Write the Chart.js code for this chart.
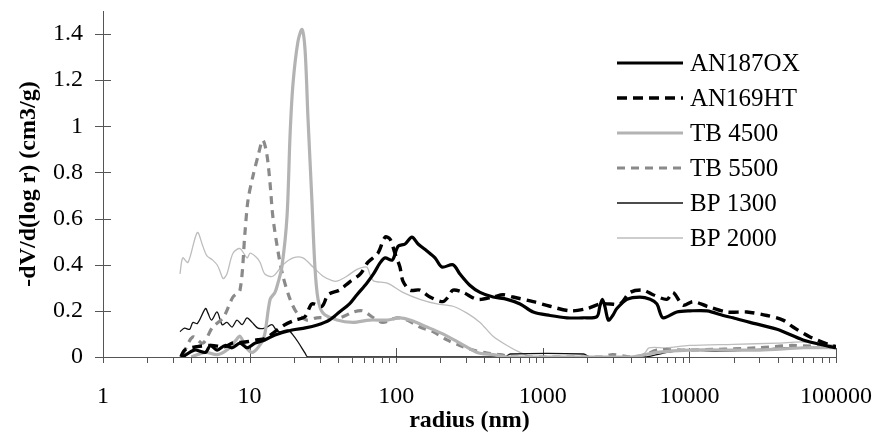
<!DOCTYPE html>
<html>
<head>
<meta charset="utf-8">
<script src="https://cdn.jsdelivr.net/npm/chart.js@4/dist/chart.umd.min.js"></script>
<style>
  html, body { margin: 0; background: #fff; }
  #wrap { width: 875px; height: 439px; position: relative; }
</style>
</head>
<body>
<div id="wrap"><canvas id="psd"></canvas></div>
<script>
// Pore size distribution — six samples, log radius axis.

// ── Data (radius in nm, -dV/d(log r) in cm3/g) ─────────────────────────────────
const an187oxR = [3.5, 4.2, 5.0, 5.4, 6.0, 6.8, 7.6, 8.6, 9.6, 10.9, 12.7, 14.9, 19.5, 24, 29, 35, 41, 48, 54, 63, 70, 78, 84, 94, 103, 115, 128, 141, 162, 184, 205, 244, 272, 319, 373, 458, 570, 700, 860, 1120, 1460, 1880, 2340, 2450, 2550, 2650, 2800, 3000, 3200, 3750, 4600, 5400, 6000, 6600, 8200, 10100, 13200, 17000, 19800, 25900, 39600, 59600, 91000, 100000];
const an187oxV = [0, 0.03, 0.02, 0.05, 0.03, 0.05, 0.04, 0.06, 0.04, 0.06, 0.074, 0.095, 0.117, 0.126, 0.139, 0.16, 0.195, 0.23, 0.27, 0.32, 0.36, 0.41, 0.43, 0.42, 0.48, 0.49, 0.52, 0.49, 0.46, 0.43, 0.39, 0.40, 0.36, 0.31, 0.28, 0.26, 0.25, 0.23, 0.195, 0.18, 0.17, 0.17, 0.175, 0.22, 0.25, 0.22, 0.16, 0.18, 0.21, 0.25, 0.26, 0.25, 0.23, 0.17, 0.195, 0.20, 0.20, 0.18, 0.17, 0.15, 0.12, 0.074, 0.045, 0.04];

const an169htR = [3.4, 3.6, 4.4, 5.5, 6.8, 7.6, 9.3, 11.4, 12.7, 14.9, 17.4, 20.4, 23.9, 26.6, 31.2, 34.3, 41, 48, 57, 64, 75, 84, 91, 98, 106, 111, 124, 145, 170, 208, 226, 244, 286, 356, 458, 535, 626, 860, 1120, 1540, 2000, 2460, 2880, 3370, 3940, 4820, 5650, 7030, 7730, 9040, 10600, 13200, 18000, 24700, 33800, 43500, 50900, 66500, 91000, 100000];
const an169htV = [0, 0.03, 0.045, 0.05, 0.045, 0.06, 0.065, 0.075, 0.08, 0.11, 0.14, 0.16, 0.175, 0.23, 0.22, 0.27, 0.29, 0.325, 0.36, 0.41, 0.45, 0.52, 0.51, 0.45, 0.39, 0.33, 0.29, 0.29, 0.26, 0.24, 0.26, 0.29, 0.28, 0.25, 0.26, 0.27, 0.26, 0.24, 0.22, 0.20, 0.21, 0.23, 0.23, 0.23, 0.28, 0.29, 0.27, 0.25, 0.28, 0.225, 0.24, 0.22, 0.195, 0.195, 0.18, 0.16, 0.13, 0.087, 0.052, 0.045];

const tb4500R = [4, 5, 6, 7, 8, 8.6, 9.5, 10.5, 12, 12.7, 13.8, 14.9, 15.6, 16.6, 18.0, 18.9, 19.8, 21.4, 22.8, 23.9, 25.0, 26.6, 27.9, 29.3, 31.7, 39.5, 50.7, 66, 87, 106, 124, 162, 208, 272, 356, 458, 570, 700, 2000, 4000, 6000, 10000, 30000, 60000, 100000];
const tb4500V = [0, 0.02, 0.01, 0.03, 0.07, 0.09, 0.04, 0.02, 0.06, 0.1, 0.25, 0.28, 0.32, 0.39, 0.61, 0.97, 1.19, 1.37, 1.42, 1.33, 1.04, 0.68, 0.39, 0.25, 0.19, 0.16, 0.15, 0.16, 0.16, 0.17, 0.16, 0.13, 0.10, 0.06, 0.02, 0.01, 0, 0, 0, 0, 0.02, 0.03, 0.03, 0.04, 0.04];

const tb5500R = [3.5, 4.1, 4.8, 5.6, 6.6, 7.7, 8.6, 9.3, 9.75, 10.5, 11.4, 12.3, 13.1, 13.8, 14.4, 15.6, 16.9, 18.9, 21.1, 24.6, 28.8, 41, 51, 59, 70, 81, 101, 119, 145, 178, 222, 272, 334, 416, 511, 626, 1000, 2500, 3000, 4000, 5000, 6000, 10000, 30000, 50000, 100000];
const tb5500V = [0.01, 0.087, 0.06, 0.13, 0.17, 0.26, 0.29, 0.54, 0.68, 0.78, 0.87, 0.94, 0.88, 0.75, 0.61, 0.46, 0.35, 0.25, 0.19, 0.16, 0.17, 0.17, 0.195, 0.2, 0.17, 0.15, 0.17, 0.16, 0.13, 0.11, 0.074, 0.05, 0.03, 0.017, 0.01, 0, 0, 0, 0.01, 0, 0.01, 0.03, 0.03, 0.04, 0.05, 0.04];

const bp1300R = [3.35, 3.6, 3.9, 4.1, 4.4, 5.0, 5.2, 5.5, 6.0, 6.5, 7.0, 7.6, 8.2, 8.9, 9.6, 10.4, 11.4, 12.7, 14.2, 15.6, 18.3, 19.5, 21.4, 23.9, 25, 550, 600, 1900, 2100, 5000, 6000, 7000, 10000, 15000, 25000, 50000, 100000];
const bp1300V = [0.11, 0.125, 0.12, 0.15, 0.145, 0.21, 0.19, 0.16, 0.195, 0.14, 0.15, 0.13, 0.16, 0.14, 0.17, 0.15, 0.125, 0.125, 0.14, 0.11, 0.117, 0.1, 0.065, 0.017, 0, 0, 0.013, 0.013, 0, 0, 0.01, 0.02, 0.03, 0.025, 0.03, 0.04, 0.04];

const bp2000R = [3.35, 3.5, 3.8, 4.4, 4.8, 5.1, 5.6, 6.0, 6.3, 6.6, 7.0, 7.7, 8.6, 9.6, 10.1, 11.2, 11.8, 12.7, 14.4, 16.9, 19.8, 23.1, 27.1, 31.7, 37, 40, 46, 54, 63, 66, 70, 87, 111, 145, 190, 244, 304, 373, 458, 570, 700, 860, 4500, 5000, 5300, 7000, 10000, 20000, 40000, 60000, 100000];
const bp2000V = [0.36, 0.43, 0.41, 0.54, 0.48, 0.44, 0.42, 0.40, 0.37, 0.34, 0.36, 0.45, 0.47, 0.43, 0.45, 0.43, 0.41, 0.36, 0.35, 0.40, 0.43, 0.43, 0.39, 0.35, 0.33, 0.33, 0.35, 0.38, 0.39, 0.36, 0.33, 0.32, 0.28, 0.25, 0.23, 0.22, 0.19, 0.15, 0.09, 0.05, 0.02, 0, 0, 0.02, 0.04, 0.04, 0.05, 0.055, 0.06, 0.065, 0.05];

const xDecades = [1, 10, 100, 1000, 10000, 100000];
const yTicks = [0, 0.2, 0.4, 0.6, 0.8, 1, 1.2, 1.4];

// ── Styling ───────────────────────────────────────────────────────────────────
const SERIF = '"Liberation Serif", "Times New Roman", serif';
const AXIS = '#555';
const pts = (rs, vs) => rs.map((r, i) => ({ x: r, y: vs[i] }));
const line = (label, rs, vs, color, width, dash) => ({
  label, data: pts(rs, vs), borderColor: color, borderWidth: width,
  borderDash: dash || [], pointRadius: 0, tension: 0.3, fill: false,
});

// axis tick marks: y ticks cross the axis, x decades cross, minors hang below
const tickMarks = {
  id: 'tickMarks',
  beforeDatasetsDraw(chart) {
    const { ctx, scales: { x, y } } = chart;
    ctx.save();
    ctx.strokeStyle = AXIS;
    ctx.lineWidth = 1;
    ctx.beginPath();
    yTicks.forEach((v) => {
      const py = Math.round(y.getPixelForValue(v)) + 0.5;
      ctx.moveTo(x.left - 8, py); ctx.lineTo(x.left + 8, py);
    });
    xDecades.forEach((d) => {
      for (let m = 1; m <= 9; m++) {
        const v = d * m;
        if (v > 100000) break;
        const px = Math.round(x.getPixelForValue(v)) + 0.5;
        ctx.moveTo(px, y.bottom + 6); ctx.lineTo(px, m === 1 ? y.bottom - 9 : y.bottom);
      }
    });
    ctx.stroke();
    ctx.restore();
  },
};

// legend inside the plot, top right
const insideLegend = {
  id: 'insideLegend',
  afterDraw(chart) {
    const { ctx, chartArea: a } = chart;
    ctx.save();
    ctx.font = `25px ${SERIF}`;
    ctx.textBaseline = 'middle';
    ctx.fillStyle = '#000';
    chart.data.datasets.forEach((ds, i) => {
      const yy = a.top + 52 + i * 35;
      const x0 = a.right - 219;
      ctx.strokeStyle = ds.borderColor;
      ctx.lineWidth = ds.borderWidth;
      ctx.setLineDash(ds.borderDash);
      ctx.beginPath();
      ctx.moveTo(x0, yy); ctx.lineTo(x0 + 66, yy);
      ctx.stroke();
      ctx.setLineDash([]);
      ctx.fillText(ds.label, x0 + 73, yy + 1);
    });
    ctx.restore();
  },
};

new Chart(document.getElementById('psd'), {
  type: 'line',
  data: {
    datasets: [
      line('AN187OX', an187oxR, an187oxV, '#000', 3.2),
      line('AN169HT', an169htR, an169htV, '#000', 3.4, [10, 6]),
      line('TB 4500', tb4500R, tb4500V, '#b3b3b3', 3.2),
      line('TB 5500', tb5500R, tb5500V, '#8a8a8a', 3.2, [8, 6]),
      line('BP 1300', bp1300R, bp1300V, '#111', 1.3),
      line('BP 2000', bp2000R, bp2000V, '#bdbdbd', 1.3),
    ],
  },
  options: {
    responsive: true,
    maintainAspectRatio: false,
    animation: false,
    layout: { autoPadding: false, padding: { top: 11, right: 39, left: 0, bottom: 0 } },
    plugins: { legend: { display: false }, tooltip: { enabled: false } },
    scales: {
      x: {
        type: 'logarithmic', min: 1, max: 100000,
        afterBuildTicks: (s) => { s.ticks = xDecades.map((v) => ({ value: v })); },
        afterFit: (s) => { s.height = 82; s.paddingLeft = 0; s.paddingRight = 0; },
        grid: { display: false, drawTicks: false },
        border: { display: true, color: AXIS, width: 1 },
        ticks: { autoSkip: false, maxRotation: 0, color: '#000', padding: 25,
          font: { family: SERIF, size: 24 }, callback: (v) => String(v) },
        title: { display: true, text: 'radius (nm)', color: '#000',
          font: { family: SERIF, size: 24, weight: 'bold' }, padding: { top: 0, bottom: 4 } },
      },
      y: {
        min: 0, max: 1.5,
        afterBuildTicks: (s) => { s.ticks = yTicks.map((v) => ({ value: v })); },
        afterFit: (s) => { s.width = 103; s.paddingTop = 0; s.paddingBottom = 0; },
        grid: { display: false, drawTicks: false },
        border: { display: true, color: AXIS, width: 1 },
        ticks: { color: '#000', padding: 20, font: { family: SERIF, size: 24 },
          callback: (v) => String(v) },
        title: { display: true, text: '-dV/d(log r) (cm3/g)', color: '#000',
          font: { family: SERIF, size: 24, weight: 'bold' }, padding: { top: 14, bottom: 0 } },
      },
    },
  },
  plugins: [tickMarks, insideLegend],
});
</script>
</body>
</html>
